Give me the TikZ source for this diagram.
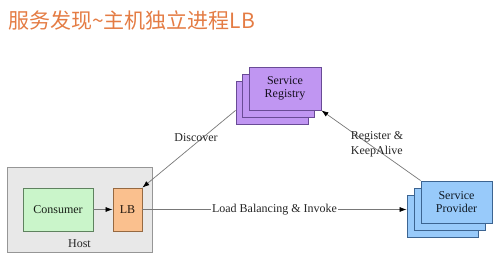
\documentclass[tikz,border=0pt]{standalone}
\usepackage{fontspec}
\setmainfont{Liberation Serif}
\newfontfamily\cjk{Noto Sans CJK SC}
\usetikzlibrary{arrows.meta,calc}
\definecolor{titleC}{RGB}{228,124,68}
\definecolor{regFill}{RGB}{192,150,242}
\definecolor{regDraw}{RGB}{105,75,150}
\definecolor{conFill}{RGB}{202,245,202}
\definecolor{conDraw}{RGB}{95,130,95}
\definecolor{lbFill}{RGB}{250,192,142}
\definecolor{lbDraw}{RGB}{150,105,65}
\definecolor{provFill}{RGB}{152,202,250}
\definecolor{provDraw}{RGB}{60,100,145}
\definecolor{hostFill}{RGB}{232,232,232}
\definecolor{hostDraw}{RGB}{150,150,150}
\definecolor{lineC}{RGB}{120,120,120}
\tikzset{
  box/.style={draw, line width=0.8pt, rectangle, inner sep=0pt, align=center,
    font=\fontsize{12}{13.5}\selectfont},
  regbox/.style={box, fill=regFill, draw=regDraw, minimum width=72pt, minimum height=43pt, text=black!80!regDraw},
  provbox/.style={box, fill=provFill, draw=provDraw, minimum width=71pt, minimum height=42pt, text=black!75!provDraw},
  conn/.style={draw=lineC, line width=0.7pt, -{Latex[length=7pt,width=5pt,color=black]}},
  lbl/.style={font=\fontsize{12}{15}\selectfont, text=black!85, align=left, inner sep=1pt}
}
\begin{document}
\begin{tikzpicture}[x=1pt,y=-1pt]
\useasboundingbox (0,0) rectangle (499,262);
\node[anchor=west, inner sep=0pt, text=titleC, font=\cjk\fontsize{21}{24}\selectfont] (title) at (8,20) {服务发现\char"007E 主机独立进程LB};
% registry stack
\node[regbox] (regB) at (272,102.5) {};
\node[regbox] (regM) at (278.5,95.5) {};
\node[regbox] (regF) at (285,88.5) {Service\\Registry};
% provider stack
\node[provbox] (provB) at (442.5,216) {};
\node[provbox] (provM) at (449.5,209) {};
\node[provbox] (provF) at (456.5,202) {Service\\Provider};
% host
\node[box, fill=hostFill, draw=hostDraw, minimum width=145pt, minimum height=85pt] (host) at (79.5,209.5) {};
\node[font=\fontsize{12}{13.5}\selectfont, text=black!85, inner sep=0pt] (hostl) at (79.5,244) {Host};
\node[box, fill=conFill, draw=conDraw, minimum width=70pt, minimum height=43pt, text=black!75!conDraw] (con) at (58,209.5) {Consumer};
\node[box, fill=lbFill, draw=lbDraw, minimum width=29pt, minimum height=43pt, text=black!80!lbDraw] (lb) at (127.5,209.5) {LB};
% connectors
\draw[conn] (con) -- (lb);
\draw[conn] ([yshift=14pt]regB.south west) -- (lb.north east);
\draw[conn] (provF.north west) -- (regF.south east);
\draw[conn] (lb.east) -- (provB.west |- lb.east) node[midway, fill=white, inner sep=1pt, font=\fontsize{12}{13.5}\selectfont, text=black!85] (lbl3) {Load Balancing \& Invoke};
\node[lbl] (dis) at (196,138) {Discover};
\node[lbl] (reg) at (377,144) {Register \&\\KeepAlive};
\end{tikzpicture}
\end{document}
